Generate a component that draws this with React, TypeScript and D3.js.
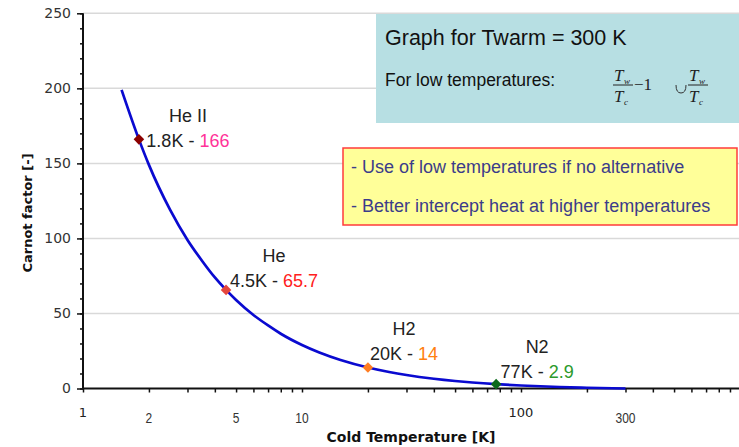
import React from 'react';
import * as d3 from 'd3';

// curve (cold temperature in K, Carnot factor)
const tempK = [1.5, 1.8, 2, 2.5, 3, 3.5, 4, 4.5, 5, 6, 7, 8, 10, 12, 15, 20, 25, 30, 40, 50, 60, 77, 100, 150, 200, 300];
const carnot = [199, 166, 149, 119, 99, 85, 74, 65.7, 59, 49, 42, 36.5, 29, 24, 19, 14, 11, 9, 6.5, 5, 4, 2.9, 2, 1, 0.5, 0];

// highlighted coolants
const gases = ['He II', 'He', 'H2', 'N2'];
const gasTemps = [1.8, 4.5, 20, 77];
const gasFactors = [166, 65.7, 14, 2.9];
const gasTempLabels = ['1.8K', '4.5K', '20K', '77K'];
const gasValueLabels = ['166', '65.7', '14', '2.9'];

const yTicks = [0, 50, 100, 150, 200, 250];
const xBigLabels = [1, 100];
const xSmallLabels = [2, 5, 10, 300];

const W = 739;
const H = 447;
const left = 83;
const right = 740;
const top = 13.3;
const bottom = 388.5;

const markerFill = ['#8b0000', '#e5463c', '#ff7d22', '#0a6a1a'];
const valueFill = ['#ff3399', '#ff2020', '#ff8010', '#2b9a2b'];
// label placement relative to the marker: centre dx, baseline dy
const labelDx = [49, 48, 36, 41];
const labelDy = [8, -3, -7, -6];

const sans = '"Liberation Sans", Arial, sans-serif';
const verd = '"DejaVu Sans", Verdana, sans-serif';

export default function App() {
  const xAxisRef = React.useRef<SVGGElement>(null);
  const yMinorRef = React.useRef<SVGGElement>(null);
  const yMajorRef = React.useRef<SVGGElement>(null);

  const x = d3.scaleLog().domain([1, 1000]).range([left, right]);
  const y = d3.scaleLinear().domain([0, 250]).range([bottom, top]);

  React.useEffect(() => {
    const minorX: number[] = [];
    [1, 10, 100].forEach(d => {
      for (let k = 1; k < 10; k++) minorX.push(d * k);
    });
    const xAxis = d3.axisBottom(x).tickValues(minorX).tickSize(4).tickFormat(() => '');
    d3.select(xAxisRef.current).call(xAxis as any);

    const yMinor = d3.axisLeft(y).tickValues(d3.range(0, 251, 10)).tickSize(3).tickFormat(() => '');
    d3.select(yMinorRef.current).call(yMinor as any);
    const yMajor = d3.axisLeft(y).tickValues(yTicks).tickSize(6).tickPadding(6);
    d3.select(yMajorRef.current).call(yMajor as any);

    [xAxisRef, yMinorRef, yMajorRef].forEach(r => {
      const g = d3.select(r.current);
      g.selectAll('path').attr('stroke', '#111').attr('stroke-width', 2);
      g.selectAll('line').attr('stroke', '#111').attr('stroke-width', 1.5);
      g.selectAll('text')
        .attr('font-family', verd)
        .attr('font-size', 14)
        .attr('fill', '#333');
    });
    d3.select(xAxisRef.current).select('.domain').attr('d', `M${left},0H${W}`);
    d3.select(yMajorRef.current).select('.domain').attr('d', `M0,${bottom}V${top}`);
    d3.select(yMinorRef.current).select('.domain').remove();
  }, []);

  const line = d3
    .line<number>()
    .x((_, i) => x(tempK[i]))
    .y(d => y(d))
    .curve(d3.curveMonotoneX);

  const diamond = d3.symbol().type(d3.symbolSquare).size(56)();

  return (
    <svg width={W} height={H} style={{ position: 'absolute', left: 0, top: 0, background: '#fff' }}>
      {yTicks.slice(1).map(t => (
        <line key={t} x1={left} x2={W} y1={y(t)} y2={y(t)} stroke="#d9d9d9" strokeWidth={1.5} />
      ))}

      <g ref={xAxisRef} transform={`translate(0,${bottom})`} />
      <g ref={yMinorRef} transform={`translate(${left},0)`} />
      <g ref={yMajorRef} transform={`translate(${left},0)`} />

      {xBigLabels.map(t => (
        <text key={t} x={x(t)} y={417} textAnchor="middle" fontFamily={verd} fontSize={13} fill="#222">
          {t}
        </text>
      ))}
      {xSmallLabels.map(t => (
        <text
          key={t}
          transform={`translate(${x(t)},423) scale(0.8,1)`}
          textAnchor="middle"
          fontFamily={sans}
          fontSize={15}
          fill="#333"
        >
          {t}
        </text>
      ))}

      <text
        transform={`translate(32,213) rotate(-90)`}
        textAnchor="middle"
        fontFamily={verd}
        fontWeight="bold"
        fontSize={13}
        fill="#111"
      >
        Carnot factor [-]
      </text>
      <text x={411} y={442} textAnchor="middle" fontFamily={verd} fontWeight="bold" fontSize={14} fill="#111">
        Cold Temperature [K]
      </text>

      <path d={line(carnot) || ''} fill="none" stroke="#0a0ad0" strokeWidth={2.7} />

      {gases.map((g, i) => {
        const px = x(gasTemps[i]);
        const py = y(gasFactors[i]);
        const cx = px + labelDx[i];
        const by = py + labelDy[i];
        return (
          <g key={g}>
            <path d={diamond || ''} transform={`translate(${px},${py}) rotate(45)`} fill={markerFill[i]} />
            <text x={cx} y={by - 25} textAnchor="middle" fontFamily={sans} fontSize={18} fill="#222">
              {g}
            </text>
            <text x={cx} y={by} textAnchor="middle" fontFamily={sans} fontSize={18} fill="#222">
              {gasTempLabels[i]} - <tspan fill={valueFill[i]}>{gasValueLabels[i]}</tspan>
            </text>
          </g>
        );
      })}

      <rect x={376} y={14} width={W - 376} height={109} fill="#b7dfe3" />
      <text x={385} y={45} fontFamily={sans} fontSize={21.5} fill="#111">
        Graph for Twarm = 300 K
      </text>
      <text x={385} y={86} fontFamily={sans} fontSize={17.5} fill="#111">
        For low temperatures:
      </text>
      <g fontFamily='"Liberation Serif", "Times New Roman", serif' fill="#222">
        <text x={614} y={81} fontSize={17} fontStyle="italic">T</text>
        <text x={624} y={84} fontSize={9} fontStyle="italic">w</text>
        <line x1={613} x2={633} y1={85} y2={85} stroke="#222" strokeWidth={1} />
        <text x={614} y={102} fontSize={17} fontStyle="italic">T</text>
        <text x={624} y={105} fontSize={9} fontStyle="italic">c</text>
        <text x={634} y={90} fontSize={17}>−1</text>
        <path d="M676,85 Q676,93 681,93 Q686,93 686,85" fill="none" stroke="#333" strokeWidth={1} />
        <text x={689} y={81} fontSize={17} fontStyle="italic">T</text>
        <text x={699} y={84} fontSize={9} fontStyle="italic">w</text>
        <line x1={688} x2={708} y1={85} y2={85} stroke="#222" strokeWidth={1} />
        <text x={689} y={102} fontSize={17} fontStyle="italic">T</text>
        <text x={699} y={105} fontSize={9} fontStyle="italic">c</text>
      </g>

      <rect x={343} y={148} width={394} height={77} fill="#ffff99" stroke="#ff3b3b" strokeWidth={1.5} />
      <text x={351} y={173} fontFamily={sans} fontSize={18} fill="#3c3c8a">
        - Use of low temperatures if no alternative
      </text>
      <text x={351} y={212} fontFamily={sans} fontSize={18} fill="#3c3c8a">
        - Better intercept heat at higher temperatures
      </text>
    </svg>
  );
}
